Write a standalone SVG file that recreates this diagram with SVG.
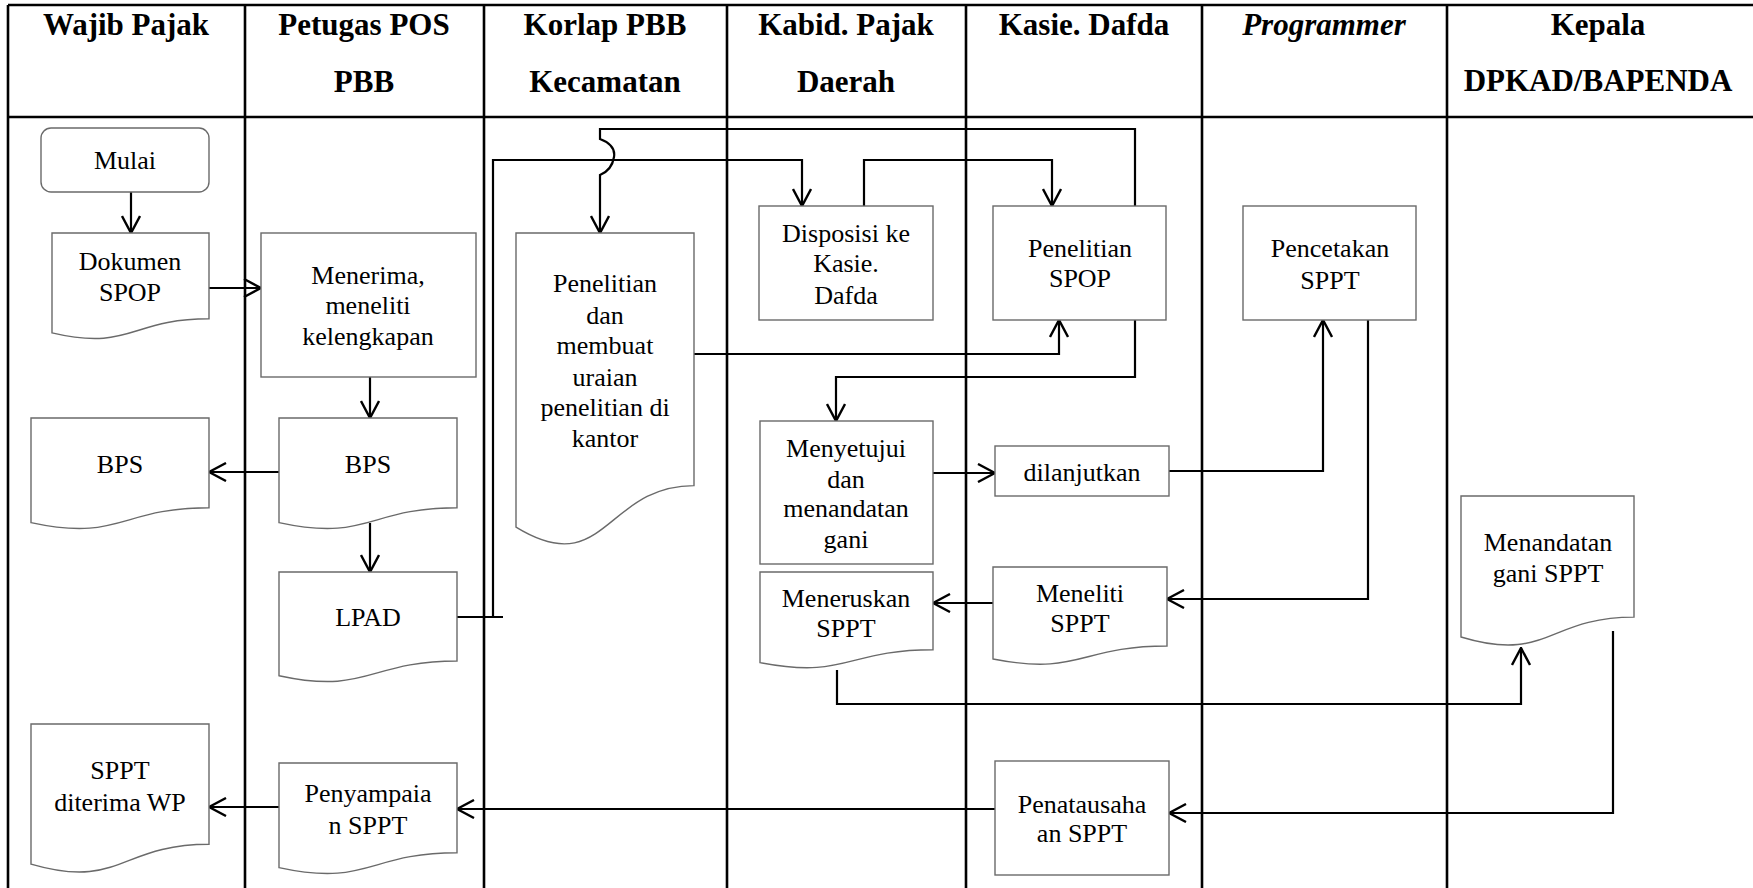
<svg xmlns="http://www.w3.org/2000/svg" width="1753" height="888" viewBox="0 0 1753 888">
<defs>
<marker id="arr" viewBox="0 0 20 20" refX="19" refY="10" markerWidth="20" markerHeight="20" markerUnits="userSpaceOnUse" orient="auto">
<path d="M2,1 L19,10 L2,19" fill="none" stroke="#000" stroke-width="2.4"/>
</marker>
<style>
.frame{stroke:#000;stroke-width:2.6;fill:none}
.box{fill:#fff;stroke:#6a6a6a;stroke-width:1.4}
.con{fill:none;stroke:#000;stroke-width:2.2}
.arw{marker-end:url(#arr)}
.hd{font-family:'Liberation Serif','Times New Roman',serif;font-weight:bold;font-size:31px;text-anchor:middle;fill:#000}
.tx{font-family:'Liberation Serif','Times New Roman',serif;font-size:26px;text-anchor:middle;fill:#000}
</style>
</defs>
<rect width="1753" height="888" fill="#fff"/>
<g id="frame">
<path class="frame" d="M8,5 H1753 M8,117 H1753 M8,5 V888 M245,5 V888 M484,5 V888 M727,5 V888 M966,5 V888 M1202,5 V888 M1447,5 V888"/>
<text class="hd" x="126" y="35">Wajib Pajak</text>
<text class="hd" x="364" y="35">Petugas POS</text>
<text class="hd" x="364" y="92">PBB</text>
<text class="hd" x="605" y="35">Korlap PBB</text>
<text class="hd" x="605" y="92">Kecamatan</text>
<text class="hd" x="846" y="35">Kabid. Pajak</text>
<text class="hd" x="846" y="92">Daerah</text>
<text class="hd" x="1084" y="35">Kasie. Dafda</text>
<text class="hd" x="1324" y="35" font-style="italic">Programmer</text>
<text class="hd" x="1598" y="35">Kepala</text>
<text class="hd" x="1598" y="91">DPKAD/BAPENDA</text>
</g>
<g id="connectors">
<path class="con arw" d="M131,192 V233"/>
<path class="con arw" d="M209,288 H261"/>
<path class="con arw" d="M370,377 V418"/>
<path class="con arw" d="M279,472 H209"/>
<path class="con arw" d="M370,523 V572"/>
<path class="con" d="M457,617 H503"/>
<path class="con arw" d="M493,617 V160 H802 V206"/>
<path class="con arw" d="M1135,206 V129 H600 V139 Q616,145 614,157 Q612,170 600,175 V233"/>
<path class="con arw" d="M864,206 V160 H1052 V206"/>
<path class="con arw" d="M694,354 H1059 V320"/>
<path class="con arw" d="M1135,320 V377 H836 V421"/>
<path class="con arw" d="M933,473 H995"/>
<path class="con arw" d="M1169,471 H1323 V320"/>
<path class="con arw" d="M1368,320 V599 H1167"/>
<path class="con arw" d="M993,603 H933"/>
<path class="con arw" d="M837,670 V704 H1521 V648"/>
<path class="con arw" d="M1613,631 V813 H1169"/>
<path class="con arw" d="M995,809 H457"/>
<path class="con arw" d="M291,807 H209"/>
</g>
<g id="nodes">
<g id="n-mulai">
<rect class="box" x="41" y="128" width="168" height="64" rx="10"/>
<text class="tx" x="125" y="169">Mulai</text>
</g>
<g id="n-dokumen">
<path class="box" d="M52,233 H209 V318.8 C130.5,318.8 130.5,351.4 52,332.9 Z"/>
<text class="tx" x="130" y="270">Dokumen</text>
<text class="tx" x="130" y="301">SPOP</text>
</g>
<g id="n-menerima">
<rect class="box" x="261" y="233" width="215" height="144"/>
<text class="tx" x="368" y="284">Menerima,</text>
<text class="tx" x="368" y="314">meneliti</text>
<text class="tx" x="368" y="345">kelengkapan</text>
</g>
<g id="n-bps-wp">
<path class="box" d="M31,418 H209 V507.8 C120,507.8 120,542 31,522.6 Z"/>
<text class="tx" x="120" y="473">BPS</text>
</g>
<g id="n-bps">
<path class="box" d="M279,418 H457 V507.8 C368,507.8 368,542 279,522.6 Z"/>
<text class="tx" x="368" y="473">BPS</text>
</g>
<g id="n-lpad">
<path class="box" d="M279,572 H457 V661 C368,661 368,694.9 279,675.7 Z"/>
<text class="tx" x="368" y="626">LPAD</text>
</g>
<g id="n-sppt-wp">
<path class="box" d="M31,724 H209 V844.3 C120,844.3 120,890 31,864.1 Z"/>
<text class="tx" x="120" y="779">SPPT</text>
<text class="tx" x="120" y="811">diterima WP</text>
</g>
<g id="n-penyampaian">
<path class="box" d="M279,763 H457 V852.8 C368,852.8 368,887 279,867.6 Z"/>
<text class="tx" x="368" y="802">Penyampaia</text>
<text class="tx" x="368" y="834">n SPPT</text>
</g>
<g id="n-penelitian-kantor">
<path class="box" d="M516,233 H694 V485.6 C605,485.6 605,581.7 516,527.2 Z"/>
<text class="tx" x="605" y="292">Penelitian</text>
<text class="tx" x="605" y="324">dan</text>
<text class="tx" x="605" y="354">membuat</text>
<text class="tx" x="605" y="386">uraian</text>
<text class="tx" x="605" y="416">penelitian di</text>
<text class="tx" x="605" y="447">kantor</text>
</g>
<g id="n-disposisi">
<rect class="box" x="759" y="206" width="174" height="114"/>
<text class="tx" x="846" y="242">Disposisi ke</text>
<text class="tx" x="846" y="272">Kasie.</text>
<text class="tx" x="846" y="304">Dafda</text>
</g>
<g id="n-penelitian-spop">
<rect class="box" x="993" y="206" width="173" height="114"/>
<text class="tx" x="1080" y="257">Penelitian</text>
<text class="tx" x="1080" y="287">SPOP</text>
</g>
<g id="n-pencetakan">
<rect class="box" x="1243" y="206" width="173" height="114"/>
<text class="tx" x="1330" y="257">Pencetakan</text>
<text class="tx" x="1330" y="289">SPPT</text>
</g>
<g id="n-menyetujui">
<rect class="box" x="760" y="421" width="173" height="143"/>
<text class="tx" x="846" y="457">Menyetujui</text>
<text class="tx" x="846" y="488">dan</text>
<text class="tx" x="846" y="517">menandatan</text>
<text class="tx" x="846" y="548">gani</text>
</g>
<g id="n-dilanjutkan">
<rect class="box" x="995" y="446" width="174" height="50"/>
<text class="tx" x="1082" y="481">dilanjutkan</text>
</g>
<g id="n-meneruskan">
<path class="box" d="M760,572 H933 V649.8 C846.5,649.8 846.5,679.4 760,662.6 Z"/>
<text class="tx" x="846" y="607">Meneruskan</text>
<text class="tx" x="846" y="637">SPPT</text>
</g>
<g id="n-meneliti">
<path class="box" d="M993,567 H1167 V646 C1080,646 1080,676 993,659 Z"/>
<text class="tx" x="1080" y="602">Meneliti</text>
<text class="tx" x="1080" y="632">SPPT</text>
</g>
<g id="n-menandatangani">
<path class="box" d="M1461,496 H1634 V617.1 C1547.5,617.1 1547.5,663.2 1461,637 Z"/>
<text class="tx" x="1548" y="551">Menandatan</text>
<text class="tx" x="1548" y="582">gani SPPT</text>
</g>
<g id="n-penatausahaan">
<rect class="box" x="995" y="761" width="174" height="114"/>
<text class="tx" x="1082" y="813">Penatausaha</text>
<text class="tx" x="1082" y="842">an SPPT</text>
</g>
</g>
</svg>
